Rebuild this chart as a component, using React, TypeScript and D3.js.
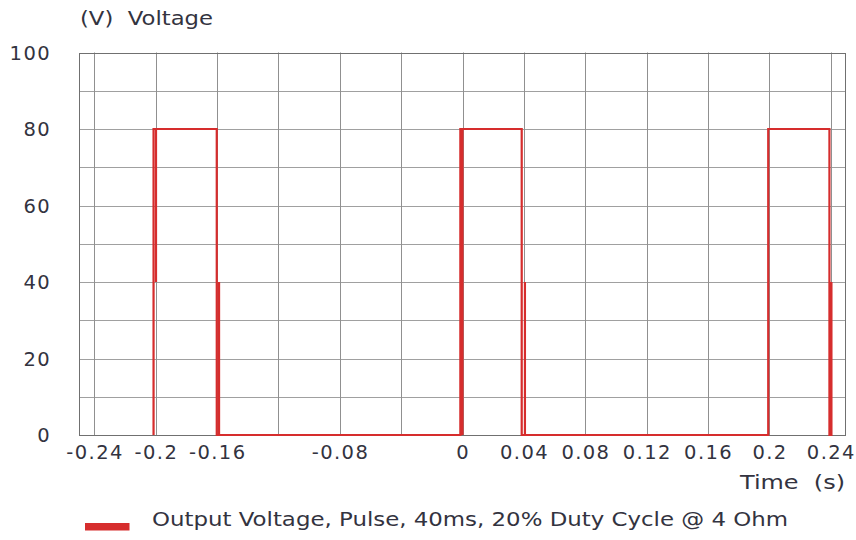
import React from 'react';
import {scaleLinear,line,range} from 'd3';

// pulse trace (s, V)
const timeS=[-0.2014,-0.2014,-0.1998,-0.1998,-0.1998,-0.1602,-0.1602,-0.1587,-0.1587,-0.1587,
  -0.0014,-0.0014,0,0,0,0.0386,0.0386,0.0407,0.0407,0.0407,
  0.1993,0.1993,0.2392,0.2392,0.2405,0.2405,0.2405];
const voltV=[0,80,80,40,80,80,0,0,40,0,
  0,80,80,0,80,80,0,0,40,0,
  0,80,80,0,0,40,0];

const xTicks=[-0.24,-0.2,-0.16,-0.08,0,0.04,0.08,0.12,0.16,0.2,0.24];
const xGrid=[-0.24,-0.2,-0.16,-0.12,-0.08,-0.04,0,0.04,0.08,0.12,0.16,0.2,0.24];
const yTicks=[0,20,40,60,80,100];
const yGrid=[0,10,20,30,40,50,60,70,80,90,100];

const seriesName="Output Voltage, Pulse, 40ms, 20% Duty Cycle @ 4 Ohm";

const W=856,H=540;
const mLeft=79,mRight=846,mTop=52.5,mBottom=435;
const red="#d62d2d";
const txt="#333340";
const font="DejaVu Sans, Verdana, sans-serif";
const fs=19.5;
const ls=1.4;

export default function App(){
  const x=scaleLinear().domain([-0.25,0.25]).range([mLeft,mRight]);
  const y=scaleLinear().domain([0,100]).range([mBottom,mTop]);

  const pts=range(timeS.length).map(i=>[timeS[i],voltV[i]] as [number,number]);
  const path=line<[number,number]>().x(d=>x(d[0])).y(d=>y(d[1]))(pts)||"";

  const tStyle={whiteSpace:"pre" as const,letterSpacing:ls+"px"};
  const wStyle={whiteSpace:"pre" as const};

  return (
    <svg width={W} height={H} style={{position:"absolute",left:0,top:0,background:"#fff"}}>
      {/* grid */}
      {yGrid.map(v=>
        <line key={"h"+v} x1={mLeft} x2={mRight} y1={Math.round(y(v))+0.5} y2={Math.round(y(v))+0.5} stroke="#a0a0a0" strokeWidth={1}/>
      )}
      {xGrid.map(v=>
        <line key={"v"+v} x1={Math.round(x(v))+0.5} x2={Math.round(x(v))+0.5} y1={mTop} y2={mBottom} stroke="#909090" strokeWidth={1}/>
      )}
      <rect x={mLeft+0.5} y={Math.round(mTop)+0.5} width={mRight-mLeft-1} height={mBottom-Math.round(mTop)} fill="none" stroke="#707070" strokeWidth={1}/>

      {/* trace */}
      <path d={path} fill="none" stroke={red} strokeWidth={2.2} strokeLinejoin="miter"/>

      {/* y labels */}
      {yTicks.map(v=>
        <text key={"yl"+v} x={51} y={y(v)} dy="0.36em" textAnchor="end" fontSize={fs} fontFamily={font} fill={txt} style={tStyle}>{v}</text>
      )}
      {/* x labels */}
      {xTicks.map(v=>
        <text key={"xl"+v} x={x(v)+0.7} y={459} textAnchor="middle" fontSize={fs} fontFamily={font} fill={txt} style={tStyle}>{String(v)}</text>
      )}
      <text x={845} y={489} textAnchor="end" fontSize={20} fontFamily={font} fill={txt} style={wStyle} textLength={105} lengthAdjust="spacingAndGlyphs">{"Time  (s)"}</text>
      <text x={80} y={25} fontSize={20} fontFamily={font} fill={txt} style={wStyle} textLength={133} lengthAdjust="spacingAndGlyphs">{"(V)  Voltage"}</text>

      {/* legend */}
      <rect x={85} y={523} width={44.5} height={7.5} fill={red}/>
      <text x={152} y={526} fontSize={20} fontFamily={font} fill={txt} style={wStyle} textLength={636} lengthAdjust="spacingAndGlyphs">{seriesName}</text>
    </svg>
  );
}
